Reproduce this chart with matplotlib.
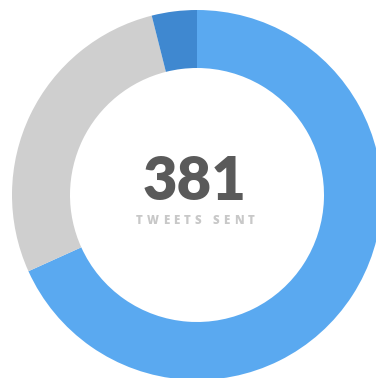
import matplotlib.pyplot as plt

# Tweet breakdown (clockwise from 12 o'clock)
labels = ['Tweets', 'Retweets', 'Replies']
counts = [260, 106, 15]
colors = ['#5aa9f0', '#cfcfcf', '#3f88d0']
total = sum(counts)

fig = plt.figure(figsize=(3.76, 3.78), dpi=100)
ax = fig.add_axes([0, 0, 1, 1])

ax.pie(counts, colors=colors, startangle=90, counterclock=False,
       center=(197, 183), radius=185, frame=True,
       wedgeprops=dict(width=58, linewidth=0))
ax.set_xlim(0, 376)
ax.set_ylim(0, 378)
ax.set_aspect('equal')
ax.axis('off')

ax.text(195, 195, str(total), ha='center', va='center', fontsize=43,
        fontweight='heavy', family='Lato', color='#5a5a5a')

# letter-spaced caption: measure each glyph, then add fixed tracking
caption = 'TWEETS SENT'
tracking = 4.3
renderer = fig.canvas.get_renderer()
widths = []
for ch in caption:
    t = ax.text(0, 0, ch if ch != ' ' else 'I', fontsize=8.3, fontweight='heavy',
                family='Open Sans')
    w = t.get_window_extent(renderer).width
    widths.append(w if ch != ' ' else 2.5)
    t.remove()
full = sum(widths) + tracking * (len(caption) - 1)
x = 195 - full / 2
for ch, w in zip(caption, widths):
    ax.text(x, 157, ch, ha='left', va='center', fontsize=8.3,
            fontweight='heavy', family='Open Sans', color='#c8c8c8')
    x += w + tracking

fig.savefig('out.png', dpi=100)
